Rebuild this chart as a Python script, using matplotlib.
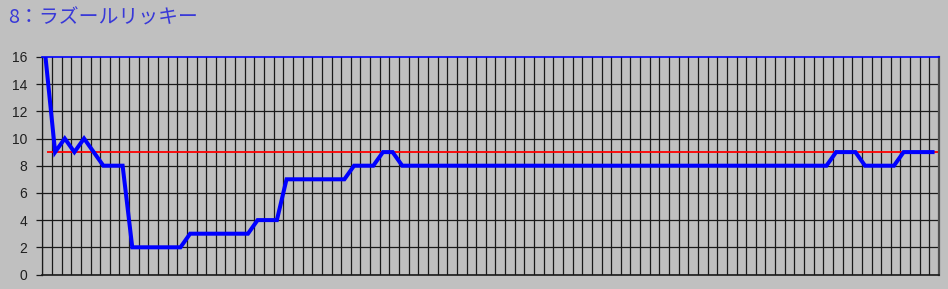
import matplotlib
matplotlib.use('Agg')
import matplotlib.pyplot as plt
import numpy as np

title = '8：ラズールリッキー'
values = [16, 9, 10, 9, 10, 9, 8, 8, 8,
          2, 2, 2, 2, 2, 2,
          3, 3, 3, 3, 3, 3, 3,
          4, 4, 4,
          7, 7, 7, 7, 7, 7, 7,
          8, 8, 8,
          9, 9,
          8, 8, 8, 8, 8, 8, 8, 8, 8, 8, 8, 8, 8, 8, 8,
          8, 8, 8, 8, 8, 8, 8, 8, 8, 8, 8, 8, 8, 8, 8,
          8, 8, 8, 8, 8, 8, 8, 8, 8, 8, 8, 8, 8, 8, 8,
          9, 9, 9,
          8, 8, 8, 8,
          9, 9, 9, 9]
ref_value = 9
yticks = [0, 2, 4, 6, 8, 10, 12, 14, 16]

n = len(values)
x = np.arange(n)
off = 0.33  # grid lines sit a bit left of each point

fig = plt.figure(figsize=(9.48, 2.89), dpi=100, facecolor='#c0c0c0')
ax = fig.add_axes([42.3 / 948, 14.5 / 289, 896.7 / 948, 217.6 / 289])
ax.set_facecolor('#c0c0c0')

ax.set_xlim(-off, n - off)
ax.set_ylim(0, 16)

# grid
for gx in np.arange(n + 1) - off:
    ax.axvline(gx, color='#1a1a1a', lw=0.9, zorder=1)
for gy in yticks[:-1]:
    ax.axhline(gy, color='#1a1a1a', lw=0.9, zorder=1)

ax.hlines(ref_value, 0.15, n - off, color='#ff0000', lw=1.3, zorder=2)
ax.plot(x, values, color='#0000ff', lw=2.9, solid_joinstyle='miter', zorder=3)

ax.set_xticks([])
ax.set_yticks(yticks)
ax.tick_params(axis='y', length=4, width=0.9, color='#1a1a1a', pad=7,
               labelsize=10, labelcolor='#202020')
for lab in ax.get_yticklabels():
    lab.set_family('Liberation Sans')

ax.spines['top'].set_color('#0000ff')
ax.spines['top'].set_linewidth(1.2)
ax.spines['right'].set_color('#505050')
ax.spines['right'].set_linewidth(1.6)
ax.spines['left'].set_color('#1a1a1a')
ax.spines['left'].set_linewidth(0.9)
ax.spines['bottom'].set_color('#1a1a1a')
ax.spines['bottom'].set_linewidth(1.2)

fig.text(8 / 948, 1 - 18.5 / 289, title, color='#3838d8', fontsize=14.3,
         family=['Noto Sans CJK JP', 'DejaVu Sans'], va='center', ha='left')

fig.savefig('out.png', dpi=100, facecolor='#c0c0c0')
